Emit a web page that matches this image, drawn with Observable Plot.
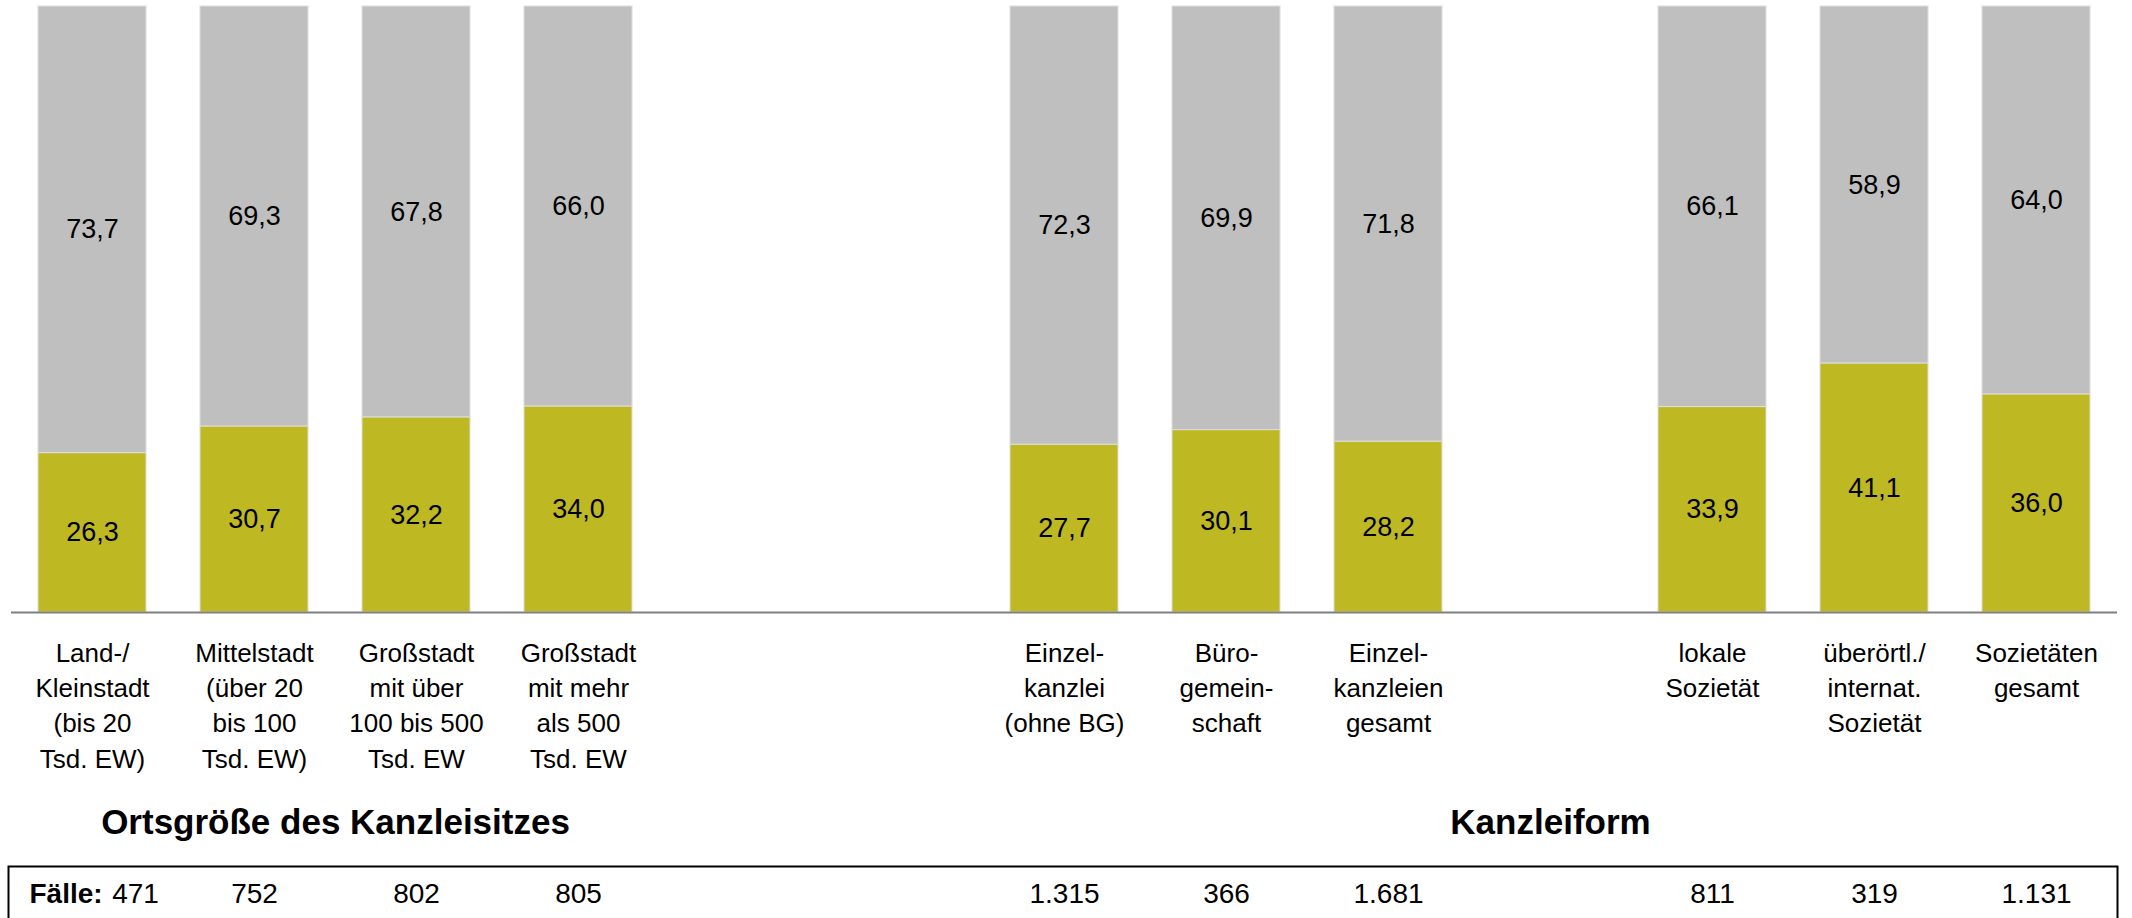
<!DOCTYPE html>
<html>
<head>
<meta charset="utf-8">
<script src="https://cdn.jsdelivr.net/npm/d3@7"></script>
<script src="https://cdn.jsdelivr.net/npm/@observablehq/plot@0.6"></script>
<style>
  html, body { margin: 0; padding: 0; background: #fff; }
  #chart svg { display: block; }
</style>
</head>
<body>
<div id="chart"></div>
<script>
// ---- data ----
const keys = ["land", "mittel", "gross1", "gross2", "einzel", "buero", "einzelGes", "lokal", "ueber", "sozGes"];
const labels = [
  "Land-/\nKleinstadt\n(bis 20\nTsd. EW)",
  "Mittelstadt\n(über 20\nbis 100\nTsd. EW)",
  "Großstadt\nmit über\n100 bis 500\nTsd. EW",
  "Großstadt\nmit mehr\nals 500\nTsd. EW",
  "Einzel-\nkanzlei\n(ohne BG)",
  "Büro-\ngemein-\nschaft",
  "Einzel-\nkanzleien\ngesamt",
  "lokale\nSozietät",
  "überörtl./\ninternat.\nSozietät",
  "Sozietäten\ngesamt"
];
const shareYes = [26.3, 30.7, 32.2, 34.0, 27.7, 30.1, 28.2, 33.9, 41.1, 36.0];
const shareNo  = [73.7, 69.3, 67.8, 66.0, 72.3, 69.9, 71.8, 66.1, 58.9, 64.0];
const cases    = [471, 752, 802, 805, 1315, 366, 1681, 811, 319, 1131];
const slots = ["land", "mittel", "gross1", "gross2", "gap1", "gap2", "einzel", "buero", "einzelGes", "gap3", "lokal", "ueber", "sozGes"];
const groupTitles = [
  {key: "gross1", title: "Ortsgröße des Kanzleisitzes", shift: -0.5},
  {key: "gap3", title: "Kanzleiform", shift: 0}
];
const seriesNames = ["ja", "nein"];
const seriesColors = ["#BEB822", "#BFBFBF"];

// ---- build ----
const loc = d3.formatLocale({decimal: ",", thousands: ".", grouping: [3], currency: ["", ""]});
const f1 = loc.format(".1f");
const fInt = loc.format(",d");

const rows = [
  ...keys.map((k, i) => ({key: k, part: seriesNames[0], value: shareYes[i]})),
  ...keys.map((k, i) => ({key: k, part: seriesNames[1], value: shareNo[i]}))
];
const cats = keys.map((k, i) => ({key: k, label: labels[i], n: cases[i]}));

const W = 2132;
const mL = 11, mR = 15;
const step = (W - mL - mR) / slots.length;
const font = "'Liberation Sans', Arial, Helvetica, sans-serif";

const xScale = {domain: slots, paddingInner: 1/3, paddingOuter: 1/6, axis: null};

const main = Plot.plot({
  width: W, height: 864,
  marginTop: 6, marginLeft: mL, marginRight: mR, marginBottom: 252,
  x: xScale,
  y: {domain: [0, 100], axis: null},
  color: {domain: seriesNames, range: seriesColors},
  style: {fontFamily: font, background: "white", color: "black"},
  marks: [
    Plot.barY(rows, {x: "key", y: "value", fill: "part", stroke: "#dedede", strokeWidth: 1}),
    Plot.text(rows, Plot.stackY({x: "key", y: "value", z: "part", text: d => f1(d.value), fontSize: 27, fill: "black"})),
    Plot.ruleY([0], {stroke: "#808080", strokeWidth: 2}),
    Plot.text(cats, {x: "key", text: "label", frameAnchor: "bottom", dy: 24, lineAnchor: "top", lineHeight: 1.36, fontSize: 26, fill: "black"}),
    ...groupTitles.map(g => Plot.text([g], {x: "key", text: "title", frameAnchor: "bottom", dx: g.shift * step, dy: 210, lineAnchor: "middle", fontWeight: "bold", fontSize: 35, fill: "black"}))
  ]
});

const box = Plot.plot({
  width: W, height: 80,
  marginTop: 2, marginLeft: 8, marginRight: 15, marginBottom: 0,
  x: {...xScale, range: [mL, W - mR]},
  style: {fontFamily: font, background: "white", color: "black"},
  marks: [
    Plot.frame({stroke: "black", strokeWidth: 2}),
    Plot.text(["Fälle:"], {frameAnchor: "top-left", dx: 21, dy: 27.5, textAnchor: "start", lineAnchor: "middle", fontWeight: "bold", fontSize: 28, fill: "black"}),
    Plot.text(cats.slice(0, 1), {x: "key", text: d => fInt(d.n), frameAnchor: "top", dx: 43, dy: 27.5, lineAnchor: "middle", fontSize: 28, fill: "black"}),
    Plot.text(cats.slice(1), {x: "key", text: d => fInt(d.n), frameAnchor: "top", dy: 27.5, lineAnchor: "middle", fontSize: 28, fill: "black"})
  ]
});

document.getElementById("chart").append(main, box);
</script>
</body>
</html>
